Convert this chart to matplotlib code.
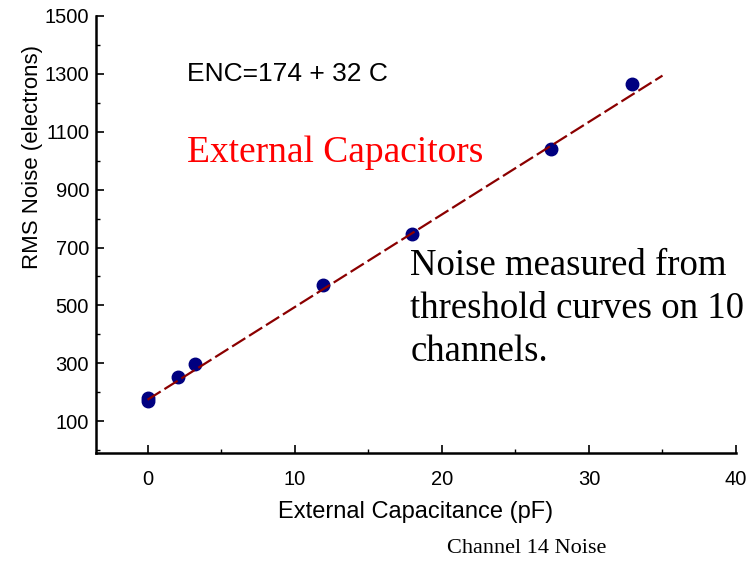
import numpy as np
import matplotlib
matplotlib.use('Agg')
import matplotlib.pyplot as plt
from matplotlib.ticker import MultipleLocator

# measured noise vs external capacitance
cap_pf = [0.0, 0.0, 2.1, 3.25, 11.9, 18.0, 27.4, 32.9]
noise_e = [170, 180, 252, 297, 570, 748, 1040, 1266]

# fit ENC = 174 + 32 C
intercept = 174
slope = 32
fit_x = [0, 35]

plt.rcParams['font.family'] = ['Liberation Sans', 'DejaVu Sans']

fig = plt.figure(figsize=(7.53, 5.61), dpi=100)
ax = fig.add_axes([0.1275, 0.1925, 0.85, 0.779])

fx = np.array(fit_x)
ax.plot(fx, intercept + slope * fx, color='#8b0000', lw=1.6, dashes=(7, 2), zorder=3)
ax.plot(cap_pf, noise_e, 'o', color='#000080', ms=9, zorder=2)

ax.set_xlim(-3.5, 40)
ax.set_ylim(-10, 1500)
ax.xaxis.set_major_locator(MultipleLocator(10))
ax.xaxis.set_minor_locator(MultipleLocator(5))
ax.set_yticks(np.arange(100, 1501, 200))
ax.yaxis.set_minor_locator(MultipleLocator(100))
ax.tick_params(direction='in', labelsize=14.5, width=1.2, length=6)
ax.tick_params(axis='x', pad=12)
ax.tick_params(axis='y', pad=5)
ax.tick_params(which='minor', direction='in', width=1, length=3)
for s in ['top', 'right']:
    ax.spines[s].set_visible(False)
for s in ['left', 'bottom']:
    ax.spines[s].set_linewidth(1.8)

ax.set_xlabel('External Capacitance (pF)', fontsize=17, labelpad=9)
ax.set_ylabel('RMS Noise (electrons)', fontsize=16)
ax.yaxis.set_label_coords(-0.083, 0.678)

fig.text(0.249, 0.868, 'ENC=174 + 32 C', fontsize=19, va='center', ha='left')
fig.text(0.248, 0.727, 'External Capacitors', fontsize=27, color='red',
         family='Liberation Serif', ha='left', va='center')
fig.text(0.545, 0.449, 'Noise measured from\nthreshold curves on 10\nchannels.',
         fontsize=26.5, family='Liberation Serif', ha='left', va='center', linespacing=1.32)
fig.text(0.7, 0.0214, 'Channel 14 Noise', fontsize=16, family='Liberation Serif',
         ha='center', va='center')

fig.savefig('out.png', dpi=100)
